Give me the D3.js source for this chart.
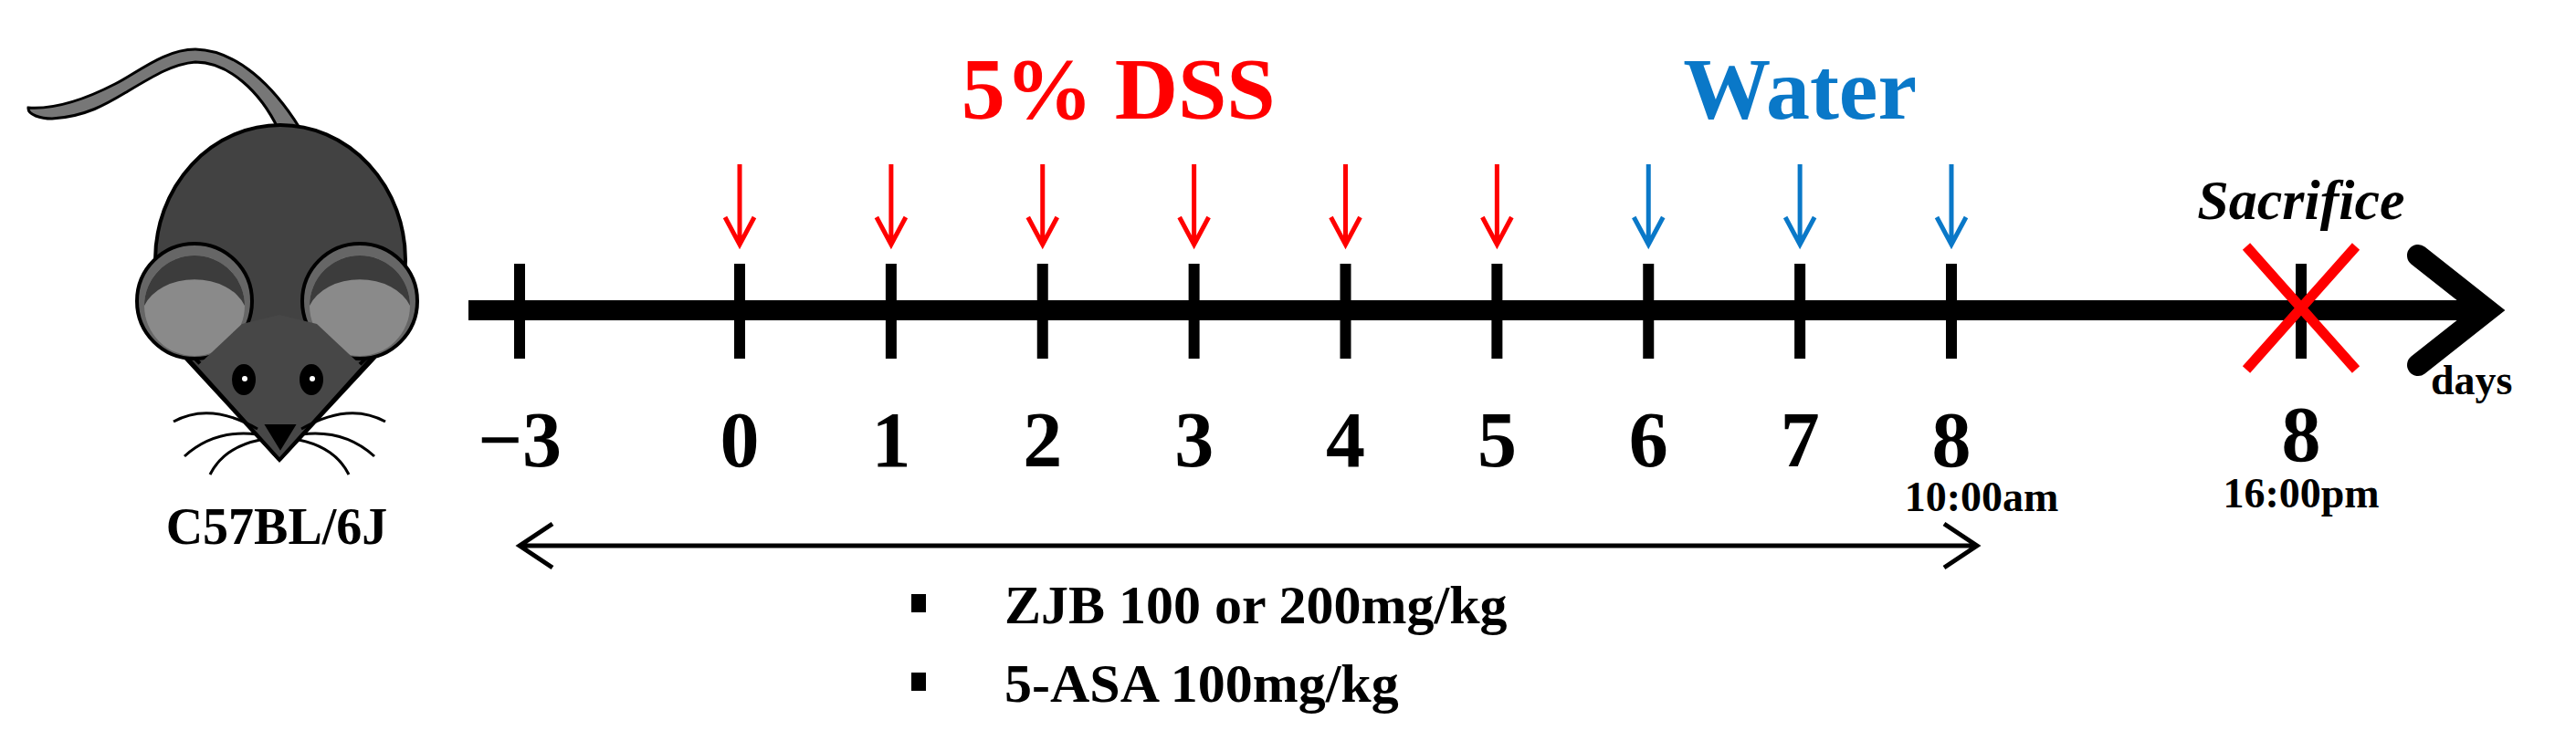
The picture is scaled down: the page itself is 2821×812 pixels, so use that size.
<!DOCTYPE html>
<html><head><meta charset="utf-8">
<script src="https://cdn.jsdelivr.net/npm/d3@7"></script>
<style>body{margin:0;background:#fff}svg{display:block}</style>
</head><body>
<script>
const tickDays = [-3,0,1,2,3,4,5,6,7,8];
const tickLabels = ["\u22123","0","1","2","3","4","5","6","7","8"];
const dssDays = [0,1,2,3,4,5];
const waterDays = [6,7,8];
const sacrificeDay = 8.25; // day 8, 16:00
const sacrificeLabel = ["8","16:00pm"];
const treatment = ["ZJB 100 or 200mg/kg","5-ASA 100mg/kg"];

const W=2821,H=812, axisY=340;
const x = d3.scaleLinear().domain([-3,0,8,8.25]).range([569,810,2137,2520]);
const svg=d3.select("body").append("svg").attr("width",W).attr("height",H);
const F="'Liberation Serif','Times New Roman',serif";

// mouse
const m=svg.append("g").attr("stroke","#000").attr("stroke-width",4);
m.append("path").attr("d","M328,140 C300,95 260,55 214,54 C180,54 150,80 126,92 C95,108 60,120 31,118 C30,126 45,130 57,130 C95,128 120,112 140,100 C170,82 190,70 214,68 C250,68 285,100 305,142 Z").attr("fill","#777").attr("stroke-width",3);
m.append("path").attr("d","M306,504 L203,392 C165,330 170,160 307,138 C444,160 449,330 410,392 Z").attr("fill","#424242");
m.append("ellipse").attr("cx",307).attr("cy",285).attr("rx",137).attr("ry",148).attr("fill","#424242");
[[213,330],[394,330]].forEach(([cx,cy])=>{
  m.append("circle").attr("cx",cx).attr("cy",cy).attr("r",63).attr("fill","#666");
  m.append("circle").attr("cx",cx).attr("cy",cy+5).attr("r",55).attr("fill","#8a8a8a").attr("stroke","none");
  m.append("path").attr("d",`M${cx-55},${cy+5} A55,55 0 0 1 ${cx+55},${cy+5} A58,42 0 0 0 ${cx-55},${cy+5}Z`).attr("fill","#3c3c3c").attr("stroke","none");
});
// face wedge
m.append("path").attr("d","M306,504 L215,402 L265,355 L306,345 L347,355 L397,402 Z").attr("fill","#474747").attr("stroke","none");
m.append("path").attr("d","M306,504 L205,392 M306,504 L407,392").attr("fill","none");
[[267,416],[341,416]].forEach(([cx,cy])=>{m.append("ellipse").attr("cx",cx).attr("cy",cy).attr("rx",11).attr("ry",15).attr("fill","#000");m.append("circle").attr("cx",cx+1).attr("cy",cy-1).attr("r",3).attr("fill","#fff").attr("stroke","none");});
m.append("path").attr("d","M293,467 L321,467 L307,490 Z").attr("fill","#000");
const wh=m.append("g").attr("fill","none").attr("stroke-width",3);
["M282,470 Q230,440 190,462","M282,476 Q235,470 202,500","M285,482 Q245,490 230,520","M330,470 Q382,440 422,462","M330,476 Q377,470 410,500","M327,482 Q367,490 382,520"].forEach(d=>wh.append("path").attr("d",d));
svg.append("text").attr("x",303).attr("y",596).attr("text-anchor","middle").attr("font-family",F).attr("font-weight","bold").attr("font-size",56).text("C57BL/6J");

// axis
svg.append("line").attr("x1",513).attr("x2",2715).attr("y1",axisY).attr("y2",axisY).attr("stroke","#000").attr("stroke-width",22);
svg.append("path").attr("d",`M2648,280 L2724,${axisY} L2648,400`).attr("fill","none").attr("stroke","#000").attr("stroke-width",24).attr("stroke-linecap","round").attr("stroke-linejoin","miter");
svg.selectAll(".tk").data(tickDays.concat([sacrificeDay])).join("line").attr("x1",d=>x(d)).attr("x2",d=>x(d)).attr("y1",289).attr("y2",393).attr("stroke","#000").attr("stroke-width",12);
svg.selectAll(".tl").data(tickDays).join("text").attr("x",d=>x(d)).attr("y",511).attr("text-anchor","middle").attr("font-family",F).attr("font-weight","bold").attr("font-size",86).text((d,i)=>tickLabels[i]);
svg.append("text").attr("x",2170).attr("y",560).attr("text-anchor","middle").attr("font-family",F).attr("font-weight","bold").attr("font-size",46).text("10:00am");
svg.append("text").attr("x",x(sacrificeDay)).attr("y",505).attr("text-anchor","middle").attr("font-family",F).attr("font-weight","bold").attr("font-size",86).text(sacrificeLabel[0]);
svg.append("text").attr("x",x(sacrificeDay)).attr("y",556).attr("text-anchor","middle").attr("font-family",F).attr("font-weight","bold").attr("font-size",46).text(sacrificeLabel[1]);
svg.append("text").attr("x",2662).attr("y",432).attr("font-family",F).attr("font-weight","bold").attr("font-size",46).text("days");
svg.append("text").attr("x",x(sacrificeDay)).attr("y",240).attr("text-anchor","middle").attr("font-family",F).attr("font-weight","bold").attr("font-style","italic").attr("font-size",62).text("Sacrifice");
const xs=x(sacrificeDay);
svg.append("path").attr("d",`M${xs-60},270 L${xs+60},405 M${xs+60},270 L${xs-60},405`).attr("stroke","#ff0000").attr("stroke-width",11);

// arrows
function arrows(days,color){
  const g=svg.append("g").attr("stroke",color).attr("stroke-width",5).attr("fill","none");
  days.forEach(d=>{const cx=x(d);g.append("path").attr("d",`M${cx},180 L${cx},268 M${cx-16},238 L${cx},268 L${cx+16},238`);});
}
arrows(dssDays,"#ff0000"); arrows(waterDays,"#0a78c8");
svg.append("text").attr("x",d3.mean(dssDays,x)).attr("y",130).attr("text-anchor","middle").attr("font-family",F).attr("font-weight","bold").attr("font-size",96).attr("fill","#ff0000").text("5% DSS");
svg.append("text").attr("x",d3.mean(waterDays,x)).attr("y",130).attr("text-anchor","middle").attr("font-family",F).attr("font-weight","bold").attr("font-size",96).attr("fill","#0a78c8").text("Water");

// treatment range
const x0=x(-3), x1=2165, yr=598;
svg.append("path").attr("d",`M${x0+36},${yr-24} L${x0},${yr} L${x0+36},${yr+24} M${x0},${yr} L${x1},${yr} M${x1-36},${yr-24} L${x1},${yr} L${x1-36},${yr+24}`).attr("stroke","#000").attr("stroke-width",5).attr("fill","none");
treatment.forEach((t,i)=>{
  const yy=683+i*86;
  svg.append("rect").attr("x",998).attr("y",yy-32).attr("width",16).attr("height",20).attr("fill","#000");
  svg.append("text").attr("x",1100).attr("y",yy).attr("font-family",F).attr("font-weight","bold").attr("font-size",60).text(t);
});
</script>
</body></html>
